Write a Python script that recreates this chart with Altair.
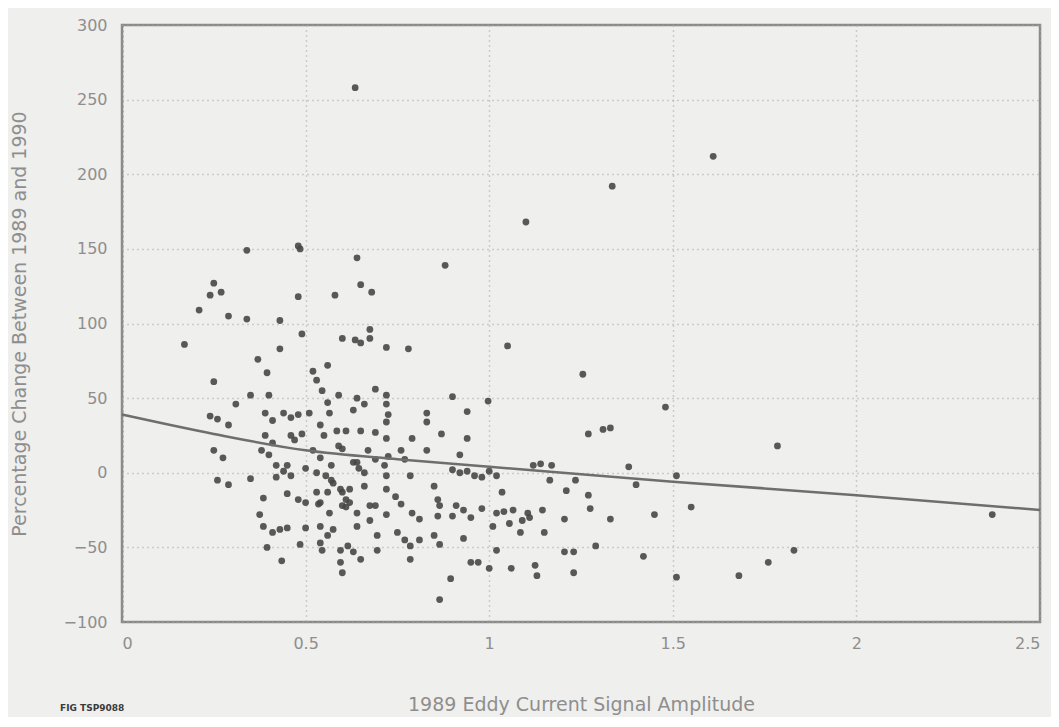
import altair as alt
import pandas as pd

# Scatter: 1989 eddy current signal amplitude vs percentage change 1989-1990
amp = [
    0.635, 1.61, 1.335, 1.10, 0.34, 0.48, 0.485, 0.64, 0.88,
    0.25, 0.24, 0.27, 0.21, 0.29, 0.34, 0.48, 0.58, 0.65, 0.68, 0.43, 0.49, 0.60, 0.635, 0.65, 0.675, 0.675, 0.72, 0.78, 0.17, 0.43,
    0.37, 0.395, 0.25, 0.56, 0.52, 0.53, 0.545, 0.59, 0.64, 0.66, 0.69, 0.72, 0.72, 0.725, 0.72, 0.31, 0.35, 0.40, 0.24, 0.26, 0.29,
    0.39, 0.41, 0.44, 0.46, 0.48, 0.51, 0.56, 0.565, 0.63, 0.54, 0.55, 0.585, 0.61, 0.65, 0.69, 0.72, 0.79, 0.87, 0.83, 0.83,
    0.39, 0.41, 0.40, 0.42, 0.38, 0.25, 0.275, 0.45, 0.52, 0.54, 0.57, 0.50, 0.53, 0.555, 0.57, 0.64, 0.66, 0.67, 0.69, 0.715,
    0.72, 0.76, 0.77, 0.785, 0.83, 0.85, 0.86, 0.865, 0.26, 0.29, 0.35, 0.42, 0.385, 0.375, 0.45, 0.48, 0.50, 0.53, 0.535, 0.56,
    0.565, 0.575, 0.60, 0.60, 0.62, 0.64, 0.64, 0.66, 0.675, 0.69, 0.72, 0.72, 0.745, 0.76, 0.675, 0.385, 0.41, 0.43, 0.45, 0.395,
    0.435, 0.485, 0.50, 0.54, 0.54, 0.545, 0.56, 0.575, 0.595, 0.60, 0.615, 0.63, 0.65, 0.695, 0.695, 0.75, 0.77, 0.785, 0.785,
    0.81, 0.85, 0.865, 0.79, 0.81, 0.86, 0.865,
    1.05, 1.255, 0.90, 0.94, 0.997, 0.94, 0.92, 1.27, 1.31, 1.33, 1.48, 1.38, 1.12, 1.14, 1.17, 0.90, 0.92, 0.94, 0.96, 0.98,
    1.00, 1.02, 1.035, 0.90, 0.91, 0.93, 0.95, 0.98, 1.02, 1.04, 1.065, 1.01, 1.055, 1.085, 1.09, 1.105, 1.11, 1.145, 1.15,
    1.165, 1.21, 1.235, 1.27, 1.275, 1.205, 1.33, 1.40, 1.45, 1.51, 1.55, 0.93, 1.02, 0.95, 0.97, 1.00, 1.06, 1.125, 1.13,
    1.205, 1.23, 1.23, 1.29, 1.42, 0.895, 1.51, 1.68, 1.76, 1.785, 1.83,
    0.46, 0.47, 0.49, 0.59, 0.60, 0.63, 0.645, 0.725, 0.44, 0.46, 0.595, 0.61, 0.62, 0.54, 0.61, 0.595, 2.37,
]
change = [
    258, 212, 192, 168, 149, 152, 150, 144, 139,
    127, 119, 121, 109, 105, 103, 118, 119, 126, 121, 102, 93, 90, 89, 87, 96, 90, 84, 83, 86, 83,
    76, 67, 61, 72, 68, 62, 55, 52, 50, 46, 56, 52, 46, 39, 34, 46, 52, 52, 38, 36, 32,
    40, 35, 40, 37, 39, 40, 47, 40, 42, 32, 25, 28, 28, 28, 27, 23, 23, 26, 40, 34,
    25, 20, 12, 5, 15, 15, 10, 5, 15, 10, 5, 3, 0, -2, -5, 7, 0, 15, 9, 5,
    -2, 15, 9, -2, 15, -9, -18, -22, -5, -8, -4, -3, -17, -28, -14, -18, -20, -13, -21, -13,
    -27, -7, -13, -22, -11, -27, -36, -9, -22, -22, -28, -11, -16, -21, -32, -36, -40, -38, -37, -50,
    -59, -48, -37, -36, -47, -52, -42, -38, -60, -67, -49, -53, -58, -42, -52, -40, -45, -49, -58,
    -45, -42, -48, -27, -31, -29, -85,
    85, 66, 51, 41, 48, 23, 12, 26, 29, 30, 44, 4, 5, 6, 5, 2, 0, 1, -2, -3,
    1, -2, -13, -29, -22, -25, -30, -24, -27, -26, -25, -36, -34, -40, -32, -27, -30, -25, -40,
    -5, -12, -5, -15, -24, -31, -31, -8, -28, -2, -23, -44, -52, -60, -60, -64, -64, -62, -69,
    -53, -53, -67, -49, -56, -71, -70, -69, -60, 18, -52,
    25, 22, 26, 18, 16, 7, 3, 11, 1, -2, -11, -18, -20, -20, -23, -52, -28,
]

# Fitted trend curve
fit_amp = [0, 0.25, 0.5, 0.75, 1.0, 1.5, 2.0, 2.5]
fit_change = [39, 26, 15, 9, 4, -6, -15, -25]

x_ticks = [0, 0.5, 1, 1.5, 2, 2.5]
y_ticks = [-100, -50, 0, 50, 100, 150, 200, 250, 300]

fig_id = "FIG TSP9088"

pts = pd.DataFrame({"amp": amp, "change": change})
fit = pd.DataFrame({"amp": fit_amp, "change": fit_change})

FONT = "DejaVu Sans"
GRAY = "#8e8e8e"

xscale = alt.Scale(domain=[0, 2.5], nice=False, zero=False)
yscale = alt.Scale(domain=[-100, 300], nice=False, zero=False)

xaxis = alt.Axis(
    values=x_ticks, title="1989 Eddy Current Signal Amplitude",
    grid=True, gridDash=[1, 4], gridColor="#a8a8a8", gridWidth=1.5,
    ticks=False, domain=False, labelPadding=13, labelFontSize=16,
    labelColor=GRAY, labelFont=FONT, titleFont=FONT, titleFontSize=19,
    titleFontWeight="normal", titleColor=GRAY, titlePadding=44,
    labelExpr="datum.value == 0 ? '0' : format(datum.value, '')",
)
yaxis = alt.Axis(
    values=y_ticks, title="Percentage Change Between 1989 and 1990",
    grid=True, gridDash=[1, 4], gridColor="#a8a8a8", gridWidth=1.5,
    ticks=False, domain=True, domainDash=[2, 3], domainColor="#8a8a8a",
    domainWidth=2, labelPadding=15, labelFontSize=16, labelColor=GRAY,
    labelFont=FONT, titleFont=FONT, titleFontSize=19,
    titleFontWeight="normal", titleColor=GRAY, titlePadding=34,
)

points = alt.Chart(pts).mark_circle(size=46, color="#474747", opacity=0.9).encode(
    x=alt.X("amp:Q", scale=xscale, axis=xaxis),
    y=alt.Y("change:Q", scale=yscale, axis=yaxis),
)

line = alt.Chart(fit).mark_line(color="#6e6e6e", strokeWidth=2.5, interpolate="monotone").encode(
    x=alt.X("amp:Q", scale=xscale),
    y=alt.Y("change:Q", scale=yscale),
)

label = alt.Chart(pd.DataFrame({"t": [fig_id]})).mark_text(
    align="left", baseline="middle", fontSize=9, fontWeight="bold",
    color="#3a3a3a", font=FONT,
).encode(text="t:N", x=alt.value(-62), y=alt.value(683))

chart = (points + line + label).properties(
    width=918, height=597,
    autosize=alt.AutoSizeParams(type="none"),
    padding={"left": 114, "top": 17, "right": 11, "bottom": 95},
    background="#efefed",
).configure_view(stroke="#8a8a8a", strokeWidth=2.5)

chart.save("out.html", embed_options={"renderer": "svg", "actions": False})
